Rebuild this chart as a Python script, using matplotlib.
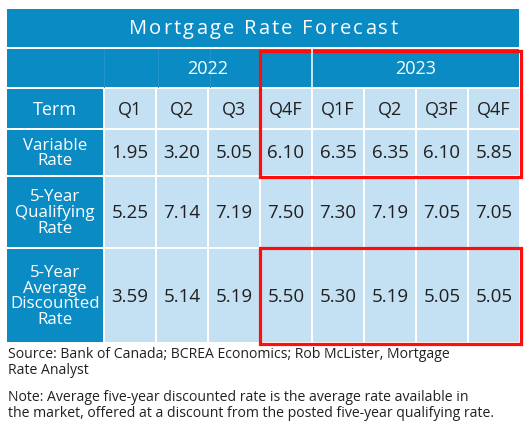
import matplotlib.pyplot as plt
from matplotlib.patches import Rectangle

plt.rcParams['font.family'] = ['Open Sans', 'DejaVu Sans']
plt.rcParams['font.weight'] = 'medium'

title = "Mortgage Rate Forecast"
years = ["2022", "2023"]
year_span = [4, 4]
quarters = ["Q1", "Q2", "Q3", "Q4F", "Q1F", "Q2", "Q3F", "Q4F"]
row_labels = ["Variable\nRate", "5-Year\nQualifying\nRate", "5-Year\nAverage\nDiscounted\nRate"]
variable_rate = [1.95, 3.20, 5.05, 6.10, 6.35, 6.35, 6.10, 5.85]
qualifying_rate = [5.25, 7.14, 7.19, 7.50, 7.30, 7.19, 7.05, 7.05]
discounted_rate = [3.59, 5.14, 5.19, 5.50, 5.30, 5.19, 5.05, 5.05]
source = "Source: Bank of Canada; BCREA Economics; Rob McLister, Mortgage\nRate Analyst"
note = ("Note: Average five-year discounted rate is the average rate available in\n"
        "the market, offered at a discount from the posted five-year qualifying rate.")

dark = '#0a8bc4'
light = '#c3e1f2'
ink = '#231f20'

# layout in pixels
x0, term_w, col_w, gap = 7, 96, 50, 2
row_tops = [9, 49, 89, 130, 177, 249]
row_h = [38, 38, 39, 45, 70, 93]

fig = plt.figure(figsize=(5.32, 4.28), dpi=100)
ax = fig.add_axes([0, 0, 1, 1])
ax.set_xlim(0, 532)
ax.set_ylim(428, 0)
ax.axis('off')

col_x = [x0 + term_w + gap + i * (col_w + gap) for i in range(len(quarters))]
x_end = col_x[-1] + col_w

def cell(x, y, w, h, color):
    ax.add_patch(Rectangle((x, y), w, h, facecolor=color, edgecolor='none'))

# title row, letter spaced
cell(x0, row_tops[0], x_end - x0, row_h[0], dark)
fig.canvas.draw()
r = fig.canvas.get_renderer()
widths = []
for ch in title:
    t = ax.text(0, 0, ch if ch != ' ' else 'a', fontsize=14.5)
    widths.append(t.get_window_extent(r).width * (0.5 if ch == ' ' else 1))
    t.remove()
track = 2.2
total = sum(widths) + track * (len(title) - 1)
cx = 263 - total / 2
for ch, w in zip(title, widths):
    ax.text(cx, row_tops[0] + row_h[0] / 2 + 1, ch, fontsize=14.5, color='white',
            ha='left', va='center')
    cx += w + track

# year row
y, h = row_tops[1], row_h[1]
cell(x0, y, x_end - x0, h, dark)
for xx in [x0 + term_w] + col_x[1:3]:
    ax.plot([xx + 1, xx + 1], [y, y + h], color='#2295ca', lw=0.7)
ax.plot([col_x[4] - 1, col_x[4] - 1], [y, y + h], color='#d8eef8', lw=1.3)
start = 0
for yr, span in zip(years, year_span):
    xa, xb = col_x[start], col_x[start + span - 1] + col_w
    ax.text((xa + xb) / 2, y + h / 2 + 1, yr, fontsize=13, color='white',
            ha='center', va='center')
    start += span

# term row
y, h = row_tops[2], row_h[2]
cell(x0, y, term_w, h, dark)
ax.text(x0 + term_w / 2, y + h / 2 + 1, "Term", fontsize=13, color='white',
        ha='center', va='center')
for xx, q in zip(col_x, quarters):
    cell(xx, y, col_w, h, light)
    ax.text(xx + col_w / 2, y + h / 2 + 1, q, fontsize=13, color=ink,
            ha='center', va='center')

# data rows
for i, (lab, vals) in enumerate(zip(row_labels, [variable_rate, qualifying_rate, discounted_rate])):
    y, h = row_tops[3 + i], row_h[3 + i]
    cell(x0, y, term_w, h, dark)
    ax.text(x0 + term_w / 2, y + h / 2 + 1, lab, fontsize=12.2, color='white',
            ha='center', va='center', linespacing=0.98)
    for xx, v in zip(col_x, vals):
        cell(xx, y, col_w, h, light)
        ax.text(xx + col_w / 2, y + h / 2 + 1, f"{v:.2f}", fontsize=13.5, color=ink,
                ha='center', va='center')

# red highlight boxes
red = '#ff0d0d'
bx = col_x[3] - 1.5
ax.add_patch(Rectangle((bx, row_tops[1] + 1.5), x_end + 1.5 - bx, row_tops[3] + row_h[3] - row_tops[1],
                       fill=False, edgecolor=red, lw=2.3))
ax.add_patch(Rectangle((bx, row_tops[5] - 1), x_end + 1.5 - bx, row_h[5] + 2.5,
                       fill=False, edgecolor=red, lw=2.3))

ax.text(8, 347, source, fontsize=10.1, color=ink, ha='left', va='top', linespacing=1.12)
ax.text(8, 390, note, fontsize=10.1, color=ink, ha='left', va='top', linespacing=1.12)

fig.savefig('out.png', dpi=100)
